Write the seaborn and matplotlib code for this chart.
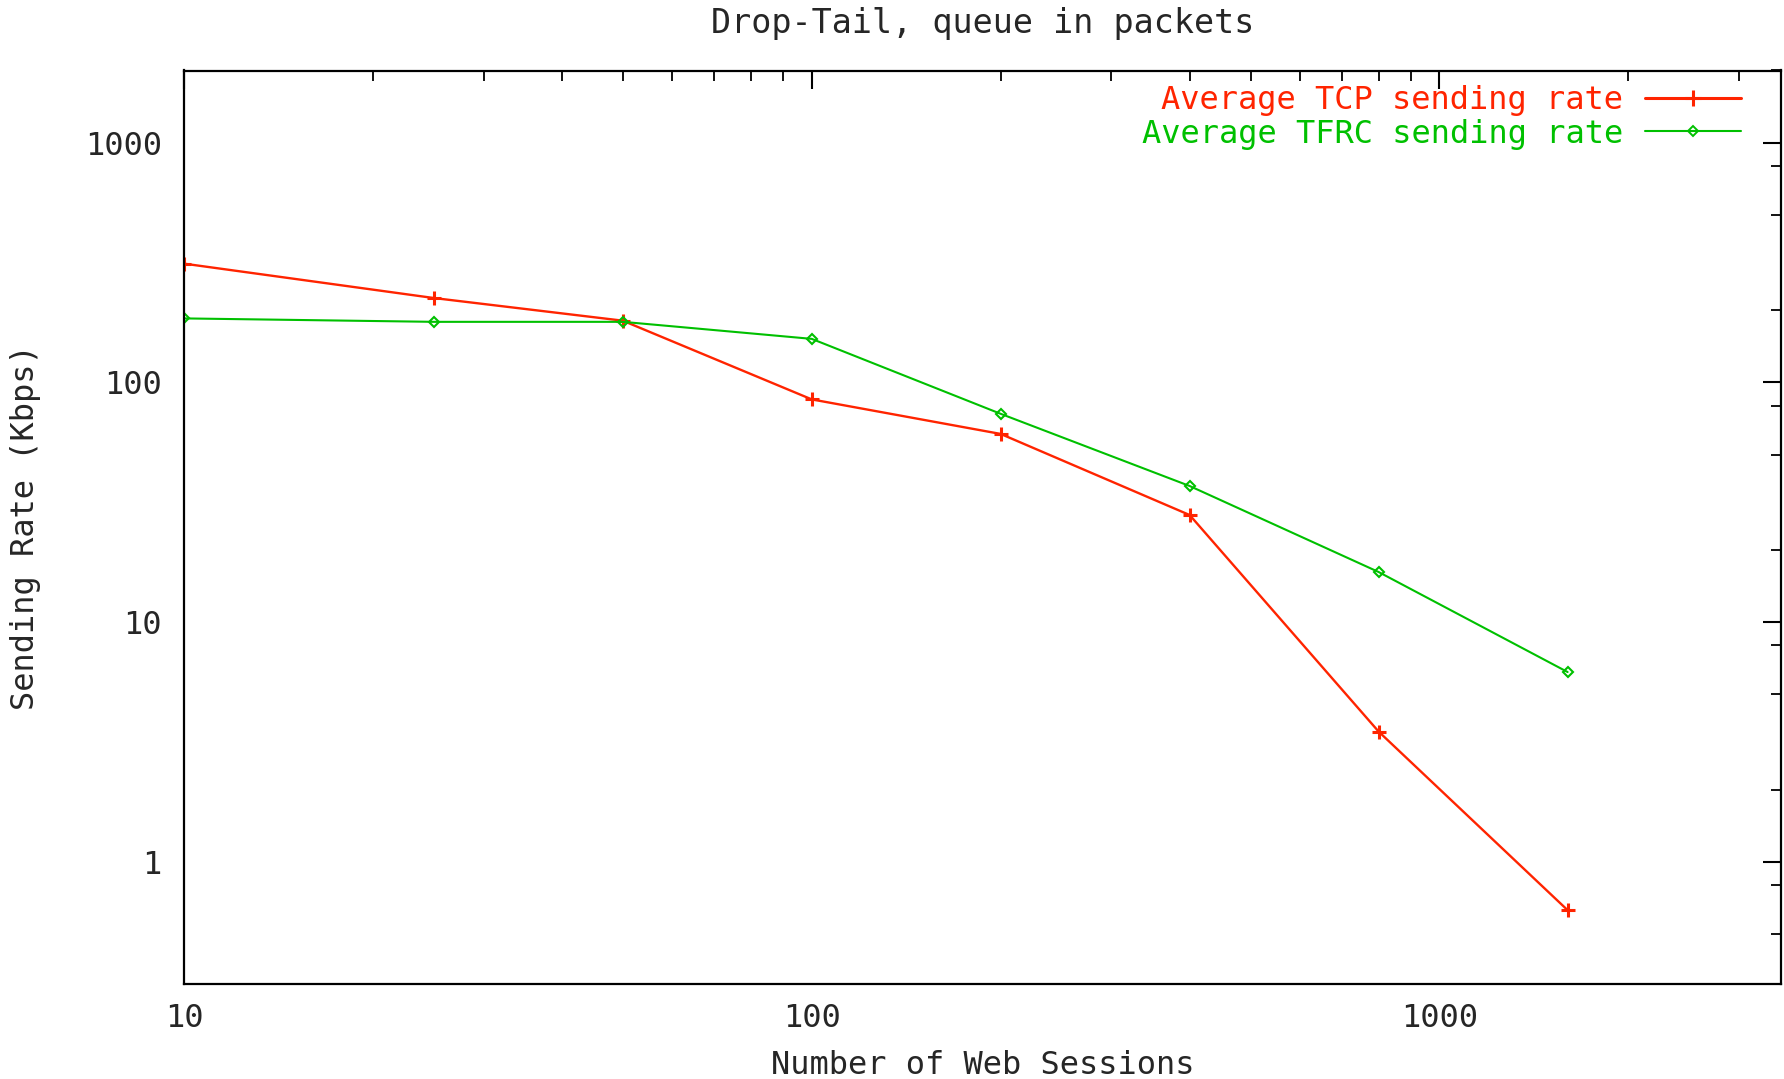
import numpy as np
import pandas as pd
import seaborn as sns
import matplotlib.pyplot as plt
from matplotlib.lines import Line2D
from matplotlib.ticker import LogLocator, NullFormatter, FixedLocator, FixedFormatter

# Values
sessions = [10, 25, 50, 100, 200, 400, 800, 1600]
tcp_rate = [313, 225, 181, 85, 61, 28, 3.5, 0.63]
tfrc_rate = [185, 179, 179, 152, 74, 37, 16.2, 6.2]
series_names = ["Average TCP sending rate", "Average TFRC sending rate"]
x_ticks = [10, 100, 1000]
y_ticks = [1, 10, 100, 1000]

tcp = pd.DataFrame({"sessions": sessions, "rate": tcp_rate})
tfrc = pd.DataFrame({"sessions": sessions, "rate": tfrc_rate})

sns.set_style("white")
plt.rcParams['font.family'] = ['DejaVu Sans Mono']

red = "#ff2400"
green = "#00c000"
W, H = 1784, 1079
fs = 23

fig = plt.figure(figsize=(W / 100, H / 100), dpi=100)
ax = fig.add_axes([184 / W, 1 - 984 / H, (1781 - 184) / W, (984 - 70.5) / H])

sns.lineplot(data=tcp, x="sessions", y="rate", color=red, linewidth=1.7,
             marker="+", markersize=10, markeredgewidth=2.2,
             markeredgecolor=red, ax=ax)
sns.lineplot(data=tfrc, x="sessions", y="rate", color=green, linewidth=1.5,
             marker="D", markersize=5.5, markerfacecolor="none",
             markeredgecolor=green, markeredgewidth=1.5, ax=ax)

ax.set_xscale("log")
ax.set_yscale("log")
ax.set_xlim(10, 3500)
ax.set_ylim(0.31, 2000)

ax.xaxis.set_major_locator(FixedLocator(x_ticks))
ax.xaxis.set_major_formatter(FixedFormatter([str(t) for t in x_ticks]))
ax.yaxis.set_major_locator(FixedLocator(y_ticks))
ax.yaxis.set_major_formatter(FixedFormatter([str(t) for t in y_ticks]))
ax.xaxis.set_minor_locator(LogLocator(base=10, subs=np.arange(2, 10)))
ax.yaxis.set_minor_locator(LogLocator(base=10, subs=[2, 5, 8]))
ax.xaxis.set_minor_formatter(NullFormatter())
ax.yaxis.set_minor_formatter(NullFormatter())

ax.tick_params(which="both", direction="in", top=True, right=True, color="black")
ax.tick_params(which="major", length=13, width=1.5, labelsize=fs)
ax.tick_params(axis="x", which="major", pad=14)
ax.tick_params(axis="y", which="major", pad=16)
ax.tick_params(which="minor", length=7, width=1.3)
for s in ax.spines.values():
    s.set_color("black")
    s.set_linewidth(1.6)

ax.set_xlabel("Number of Web Sessions", fontsize=fs)
ax.set_ylabel("Sending Rate (Kbps)", fontsize=fs)
ax.xaxis.set_label_coords(0.5, (984 - 1066) / (984 - 70.5))
ax.xaxis.label.set_va("center")
ax.yaxis.set_label_coords((25 - 184) / (1781 - 184), 0.5)
ax.yaxis.label.set_va("center")
# title centred over the plot area, as gnuplot does
ax.text(0.5, (984 - 23) / (984 - 70.5), "Drop-Tail, queue in packets",
        fontsize=fs + 1, ha="center", va="center", transform=ax.transAxes)

# legend: colored text with sample line to its right
handles = [
    Line2D([], [], color=red, linewidth=2.2, marker="+", markersize=12,
           markeredgewidth=2.2),
    Line2D([], [], color=green, linewidth=1.5, marker="D", markersize=5,
           markerfacecolor="none", markeredgewidth=1.4),
]
leg = ax.legend(handles, series_names, loc="upper right", frameon=False,
                fontsize=fs, markerfirst=False, handlelength=3.0,
                handletextpad=0.7, labelspacing=0.08, borderpad=0,
                borderaxespad=0, bbox_to_anchor=(1741 / W, 1 - 85 / H),
                bbox_transform=fig.transFigure)
for txt, c in zip(leg.get_texts(), [red, green]):
    txt.set_color(c)

fig.savefig("out.png", dpi=100)
